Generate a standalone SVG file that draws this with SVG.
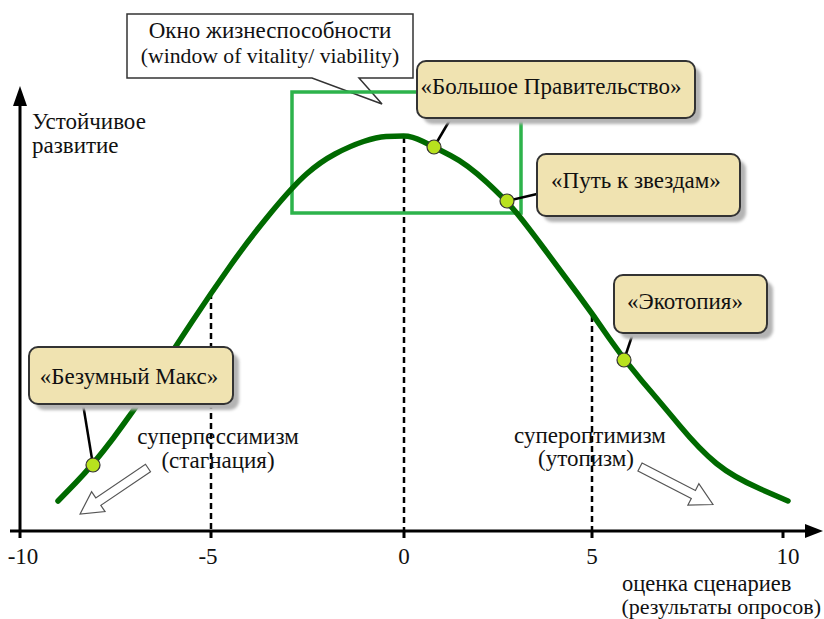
<svg xmlns="http://www.w3.org/2000/svg" width="824" height="619" viewBox="0 0 824 619">
<style>
text{font-family:"Liberation Serif","Times New Roman",serif;font-size:23px;fill:#111}
.ax{stroke:#000;stroke-width:3;fill:none}
.dash{stroke:#000;stroke-width:2.5;stroke-dasharray:6 4;fill:none}
.box{fill:#f0e3b1;stroke:#333;stroke-width:2}
.sh{fill:#b4b4b4;filter:url(#blur)}
.dot{fill:#b8e21e;stroke:#333;stroke-width:1.2}
.con{stroke:#000;stroke-width:2.5;fill:none}
.barrow{fill:#fff;stroke:#555;stroke-width:1.2}
</style>
<defs>
<filter id="blur" x="-10%" y="-10%" width="120%" height="130%"><feGaussianBlur stdDeviation="1.5"/></filter>
</defs>
<rect width="824" height="619" fill="#fff"/>

<g id="axes">
<line class="ax" x1="20" y1="538" x2="20" y2="102"/>
<polygon points="20,86 13,106 27,106" fill="#000"/>
<line class="ax" x1="10" y1="531" x2="808" y2="531"/>
<polygon points="823,531 805,524 805,538" fill="#000"/>
<line class="ax" x1="211" y1="531" x2="211" y2="538"/>
<line class="ax" x1="404" y1="531" x2="404" y2="538"/>
<line class="ax" x1="592" y1="531" x2="592" y2="538"/>
<line class="ax" x1="783" y1="531" x2="783" y2="538"/>
<text x="23" y="564" text-anchor="middle">-10</text>
<text x="208" y="564" text-anchor="middle">-5</text>
<text x="404" y="564" text-anchor="middle">0</text>
<text x="592" y="564" text-anchor="middle">5</text>
<text x="788" y="564" text-anchor="middle">10</text>
<text x="32" y="129">Устойчивое</text>
<text x="32" y="153">развитие</text>
<text x="622" y="591" style="font-size:22.5px">оценка сценариев</text>
<text x="821" y="614" text-anchor="end" style="font-size:22px">(результаты опросов)</text>
</g>

<g id="dashes">
<line class="dash" x1="211" y1="293" x2="211" y2="531"/>
<line class="dash" x1="404" y1="137" x2="404" y2="531"/>
<line class="dash" x1="592" y1="316" x2="592" y2="531"/>
</g>

<g id="callout">
<path d="M127,14 H413 V78 H359 L382,104 L312,78 H127 Z" fill="#fff" stroke="#333" stroke-width="1.5"/>
<text x="270" y="38" text-anchor="middle">Окно жизнеспособности</text>
<text x="270" y="63" text-anchor="middle" style="font-size:21.7px">(window of vitality/ viability)</text>
</g>

<g id="window">
<rect x="292" y="92" width="229" height="121" fill="none" stroke="#2db34b" stroke-width="3.5"/>
</g>

<g id="curve">
<path d="M58,501 L75.5,483 Q93,465 113,438.5 Q133,412 152.5,382 Q172,352 191.5,322.5 Q211,293 230.5,265.5 Q250,238 271.5,212 Q293,186 306.5,174 Q320,162 335,154 Q350,146 363.5,141.5 Q377,137 386,136.5 Q395,136 403.5,136 Q412,136 423,141.5 Q434,147 450.5,155.5 Q467,164 487,182.5 Q507,201 517.5,214 Q528,227 544,248.5 Q560,270 577,293 Q594,316 609,338 Q624,360 642,381 Q660,402 680,426 Q700,450 716.5,463.5 Q733,477 760.5,489 L788,501" fill="none" stroke="#006a00" stroke-width="5.5" stroke-linecap="round" stroke-linejoin="round"/>
</g>

<g id="connectors">
<line class="con" x1="451" y1="118" x2="434" y2="147"/>
<line class="con" x1="537" y1="194" x2="507" y2="201"/>
<line class="con" x1="633" y1="333" x2="624" y2="360"/>
<line class="con" x1="83" y1="404" x2="93" y2="465"/>
</g>

<g id="dots">
<circle class="dot" cx="93" cy="465" r="7"/>
<circle class="dot" cx="434" cy="147" r="7"/>
<circle class="dot" cx="507" cy="201" r="7"/>
<circle class="dot" cx="624" cy="360" r="7"/>
</g>

<g id="big-government">
<rect class="sh" x="423" y="67" width="278" height="57" rx="9"/>
<rect class="box" x="417" y="61" width="278" height="57" rx="9"/>
<text x="551" y="94" text-anchor="middle">«Большое Правительство»</text>
</g>

<g id="path-to-stars">
<rect class="sh" x="543" y="160" width="203" height="62" rx="9"/>
<rect class="box" x="537" y="154" width="203" height="62" rx="9"/>
<text x="636" y="188" text-anchor="middle">«Путь к звездам»</text>
</g>

<g id="ecotopia">
<rect class="sh" x="620" y="281" width="153" height="58" rx="9"/>
<rect class="box" x="614" y="275" width="153" height="58" rx="9"/>
<text x="685" y="309" text-anchor="middle">«Экотопия»</text>
</g>

<g id="mad-max">
<rect class="sh" x="35" y="353" width="204" height="57" rx="9"/>
<rect class="box" x="29" y="347" width="204" height="57" rx="9"/>
<text x="129" y="384" text-anchor="middle">«Безумный Макс»</text>
</g>

<g id="superpessimism">
<text x="218" y="444" text-anchor="middle">суперпессимизм</text>
<text x="218" y="468" text-anchor="middle">(стагнация)</text>
<path class="barrow" transform="translate(148,468) rotate(145.9)" d="M0,-4.5 L60,-4.5 L60,-12 L82,0 L60,12 L60,4.5 L0,4.5 Z"/>
</g>

<g id="superoptimism">
<text x="590" y="443" text-anchor="middle">супероптимизм</text>
<text x="586" y="466" text-anchor="middle">(утопизм)</text>
<path class="barrow" transform="translate(640,467) rotate(27.2)" d="M0,-4.5 L60,-4.5 L60,-12 L82,0 L60,12 L60,4.5 L0,4.5 Z"/>
</g>
</svg>
